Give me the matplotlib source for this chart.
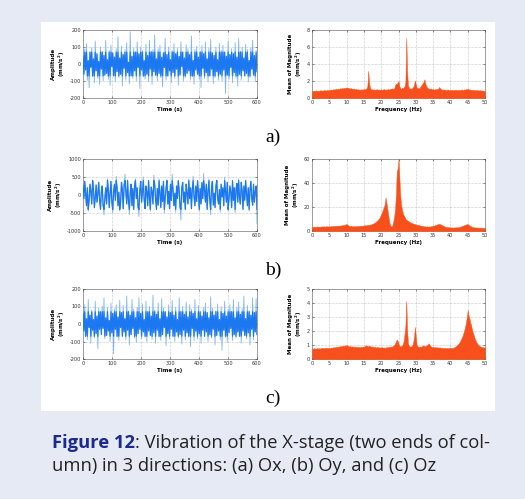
import numpy as np
import matplotlib
matplotlib.use("Agg")
import matplotlib.pyplot as plt
from matplotlib.patches import Rectangle

plt.rcParams["axes.unicode_minus"] = False

# ---------------- data ----------------
time_a = [
    45, -60, 88, -35, 120, -95, 20, -140, 70, -20, 95, -75, 30, -110, 135, -40, 60, -85, 15, -120,
    100, -30, 75, -100, 50, -65, 140, -55, 25, -90, 80, -125, 110, -15, 65, -70, 40, -105, 90, -45,
    160, -80, 35, -60, 105, -130, 55, -25, 85, -95, 125, -50, 10, -115, 190, -70, 45, -85, 95, -40,
    70, -100, 130, -20, 60, -145, 100, -35, 80, -75, 20, -90, 115, -60, 50, -105, 140, -30, 75, -120,
    85, -45, 170, -65, 30, -100, 90, -55, 110, -80, 40, -135, 65, -20, 150, -95, 55, -70, 100, -40,
    25, -110, 80, -50, 120, -85, 60, -30, 95, -125, 45, -65, 130, -15, 70, -100, 35, -80, 115, -55,
    90, -40, 55, -95, 165, -75, 20, -120, 85, -35, 105, -60, 40, -90, 75, -140, 110, -25, 60, -85,
    130, -50, 30, -105, 95, -70, 145, -30, 65, -115, 50, -80, 100, -45, 25, -95, 120, -60, 80, -100,
    110, -35, 70, -175, 45, -65, 135, -90, 55, -20, 90, -110, 60, -50, 125, -85, 40, -130, 150, -60,
    75, -95, 100, -40, 35, -70, 115, -55, 85, -105, 20, -80, 95, -30, 140, -65, 50, -100, 80, -45,
]
time_b = [
    250, -100, 380, 50, -300, 200, -450, -150, 300, 100, -250, 420, 150, -350, -80, 280, -200, 50, 350, -150,
    -400, 100, 250, -300, -550, -100, 200, -250, 450, 150, -350, 50, 380, -200, -500, 100, 300, -150, 520, 200,
    -300, 80, -450, -200, 350, 150, -380, 280, 580, 100, -250, 420, -150, -550, 50, 300, -300, 180, -400, 250,
    450, -100, 200, -350, -600, 150, 380, -200, 100, 500, -150, -380, 250, 80, -300, 400, -50, -450, 220, 100,
    -250, 550, 300, -100, -400, 180, -280, 450, 50, -350, 250, -180, 380, -500, -100, 200, 420, -250, 100, -380,
    300, -150, 580, 150, -300, 50, -480, 250, -100, 400, 120, -350, -700, 200, 350, -200, 80, -420, 300, 50,
    -250, 450, -100, 200, -380, 150, 520, -50, -300, 250, -180, 400, 80, -450, 180, -250, 350, -100, 600, 150,
    -200, 300, -400, 100, 450, -150, -550, 200, 380, -280, 50, -350, 250, 420, -100, -250, 150, -480, 300, -50,
    200, -300, 500, 100, -200, 350, -450, -100, 250, 80, -350, 400, -150, 200, -500, 150, 320, -200, 450, -80,
    -250, 350, 100, -400, 250, -150, 420, 50, -300, 200, -450, 150, 380, -100, -280, 300, -200, 100, 250, -800,
]
time_c = [
    60, -40, 110, -70, 30, -90, 140, -20, 50, -110, 80, -35, 25, -80, 130, -55, 45, -140, 90, -30,
    70, -60, 100, -25, 150, -85, 35, -65, 95, -40, 20, -100, 120, -50, 60, -170, 85, -30, 110, -75,
    40, -95, 135, -20, 65, -70, 105, -45, 30, -90, 160, -35, 75, -120, 50, -60, 140, -25, 85, -80,
    35, -105, 95, -55, 150, -30, 60, -85, 115, -45, 25, -75, 130, -100, 70, -40, 100, -65, 45, -90,
    165, -50, 80, -110, 55, -35, 120, -75, 30, -95, 145, -60, 90, -20, 70, -125, 40, -55, 110, -85,
    65, -30, 135, -70, 50, -100, 95, -45, 25, -80, 150, -60, 75, -115, 100, -35, 55, -90, 125, -50,
    40, -75, 110, -130, 85, -25, 60, -95, 140, -40, 30, -85, 105, -55, 70, -110, 45, -35, 95, -70,
    120, -45, 65, -100, 35, -60, 155, -80, 90, -30, 50, -120, 75, -65, 115, -40, 25, -90, 100, -150,
    60, -35, 130, -75, 45, -105, 85, -50, 110, -25, 70, -95, 140, -60, 35, -80, 95, -45, 125, -70,
    55, -110, 90, -40, 160, -65, 30, -85, 105, -50, 75, -120, 50, -30, 150, -90, 65, -45, 145, -60,
]
time_s = np.linspace(0, 600, len(time_a))

spec_a = [
    0.85, 0.82, 0.88, 0.80, 0.86, 0.90, 0.84, 0.87, 0.83, 0.89, 0.92, 0.86, 0.90, 0.88, 0.93, 0.91, 0.87, 0.94, 0.90, 0.95,
    0.92, 0.97, 1.00, 0.95, 1.02, 0.98, 1.05, 1.01, 1.08, 1.04, 1.10, 1.06, 1.12, 1.15, 1.09, 1.18, 1.13, 1.20, 1.16, 1.22,
    1.25, 1.18, 1.21, 1.15, 1.12, 1.17, 1.10, 1.08, 1.13, 1.05, 1.02, 1.07, 1.00, 1.04, 0.98, 1.01, 0.97, 1.03, 0.99, 1.02,
    1.05, 1.00, 1.08, 1.15, 1.40, 3.20, 1.80, 1.20, 1.05, 1.00, 1.03, 0.98, 1.02, 0.96, 1.00, 1.04, 0.97, 1.01, 0.95, 0.99,
    1.02, 0.96, 1.00, 1.05, 0.98, 1.03, 0.97, 1.01, 1.06, 1.00, 1.04, 1.10, 1.08, 1.15, 1.05, 1.12, 1.50, 1.70, 1.60, 1.85,
    2.00, 1.40, 1.15, 1.10, 1.20, 1.12, 1.25, 1.40, 1.90, 7.10, 3.00, 1.50, 1.20, 1.10, 1.15, 1.08, 1.20, 1.30, 1.60, 2.05,
    1.60, 1.25, 1.15, 1.20, 1.10, 1.30, 1.45, 1.60, 1.75, 1.90, 2.20, 1.70, 1.40, 1.25, 1.15, 1.10, 1.05, 1.12, 1.08, 1.02,
    1.05, 0.98, 1.02, 1.06, 1.00, 1.08, 1.12, 1.30, 1.15, 1.05, 1.00, 0.97, 1.02, 0.95, 0.99, 0.93, 0.97, 1.00, 0.94, 0.96,
    0.92, 0.98, 0.95, 0.90, 0.96, 0.93, 0.99, 0.94, 0.91, 0.97, 0.95, 0.92, 0.98, 1.00, 0.96, 0.94, 1.02, 0.98, 1.05, 1.00,
    1.10, 1.03, 0.98, 1.00, 0.95, 0.97, 0.93, 0.96, 0.92, 0.94, 0.90, 0.95, 0.91, 0.88, 0.93, 0.89, 0.86, 0.90, 0.85, 0.83,
    0.80,
]
spec_b = [
    3.5, 3.2, 3.8, 3.4, 3.6, 3.3, 3.9, 3.5, 3.7, 3.4, 3.8, 3.6, 4.0, 3.7, 3.9, 3.6, 4.1, 3.8, 4.0, 3.7,
    4.0, 3.8, 4.2, 3.9, 4.3, 4.0, 4.4, 4.1, 4.5, 4.2, 4.6, 4.3, 4.7, 4.4, 4.8, 4.6, 5.0, 4.8, 5.3, 5.6,
    5.8, 5.2, 4.6, 4.2, 4.0, 4.3, 3.9, 4.1, 3.8, 4.0, 3.9, 4.2, 4.0, 4.3, 4.1, 4.4, 4.2, 4.5, 4.3, 4.6,
    4.5, 4.8, 4.6, 5.0, 4.8, 5.2, 5.0, 5.5, 5.3, 5.8, 6.0, 6.4, 6.8, 7.2, 7.8, 8.5, 9.2, 10.0, 11.0, 12.5,
    14.0, 16.0, 18.0, 20.0, 22.0, 28.0, 24.0, 19.0, 14.0, 9.0, 5.5, 4.0, 3.5, 5.0, 8.0, 12.0, 18.0, 30.0, 50.0, 52.0,
    60.0, 45.0, 30.0, 22.0, 18.0, 15.0, 13.0, 12.0, 10.0, 9.5, 9.0, 8.5, 8.0, 7.5, 7.0, 6.8, 6.5, 6.2, 6.0, 5.7,
    5.5, 5.3, 5.1, 5.0, 4.8, 4.6, 4.5, 4.3, 4.2, 4.0, 3.9, 3.8, 3.7, 3.9, 3.6, 3.8, 3.7, 3.9, 4.0, 4.2,
    4.3, 4.5, 4.8, 5.0, 5.3, 5.6, 5.8, 6.0, 5.7, 5.4, 5.0, 4.6, 4.2, 3.9, 3.6, 3.4, 3.3, 3.1, 3.2, 3.0,
    3.1, 2.9, 3.0, 2.8, 3.0, 2.9, 3.1, 3.0, 3.2, 3.1, 3.3, 3.5, 3.8, 4.0, 4.3, 4.6, 4.9, 5.2, 5.5, 5.7,
    5.6, 5.2, 4.7, 4.2, 3.8, 3.5, 3.3, 3.1, 3.0, 2.9, 3.0, 2.8, 2.9, 2.7, 2.8, 2.6, 2.8, 2.7, 2.6, 2.5,
    2.6,
]
spec_c = [
    0.75, 0.72, 0.78, 0.74, 0.76, 0.73, 0.79, 0.75, 0.77, 0.74, 0.78, 0.76, 0.80, 0.77, 0.79, 0.76, 0.81, 0.78, 0.80, 0.77,
    0.80, 0.78, 0.82, 0.79, 0.84, 0.81, 0.86, 0.83, 0.88, 0.85, 0.90, 0.87, 0.92, 0.89, 0.94, 0.91, 0.96, 0.93, 0.98, 0.95,
    1.00, 0.96, 0.93, 0.90, 0.92, 0.88, 0.91, 0.87, 0.90, 0.86, 0.89, 0.85, 0.88, 0.84, 0.87, 0.83, 0.86, 0.88, 0.85, 0.90,
    0.87, 0.92, 0.95, 0.98, 0.93, 0.90, 0.96, 0.92, 0.88, 0.91, 0.86, 0.89, 0.84, 0.87, 0.82, 0.86, 0.83, 0.85, 0.81, 0.84,
    0.82, 0.85, 0.80, 0.83, 0.79, 0.84, 0.81, 0.86, 0.82, 0.88, 0.85, 0.90, 0.87, 0.92, 0.95, 1.00, 1.10, 1.25, 1.40, 1.30,
    1.10, 0.95, 0.90, 0.92, 0.95, 1.05, 1.30, 1.80, 2.40, 4.15, 2.00, 1.10, 0.95, 0.90, 0.88, 0.92, 0.98, 1.20, 1.60, 2.30,
    1.60, 1.00, 0.90, 0.88, 0.86, 0.90, 0.87, 0.92, 0.95, 0.98, 0.93, 0.90, 0.95, 1.00, 1.05, 1.12, 1.00, 0.92, 0.88, 0.85,
    0.87, 0.83, 0.85, 0.82, 0.86, 0.80, 0.84, 0.81, 0.83, 0.79, 0.82, 0.78, 0.81, 0.77, 0.80, 0.76, 0.79, 0.77, 0.80, 0.78,
    0.80, 0.77, 0.81, 0.79, 0.83, 0.86, 0.90, 0.95, 1.00, 1.08, 1.15, 1.25, 1.38, 1.50, 1.65, 1.85, 2.05, 2.30, 2.60, 3.00,
    3.50, 3.10, 2.90, 2.60, 2.40, 2.10, 1.90, 1.70, 1.50, 1.35, 1.20, 1.10, 1.02, 0.96, 0.92, 0.88, 0.86, 0.83, 0.85, 0.82,
    0.80,
]
freq_hz = np.linspace(0, 50, len(spec_a))

time_ticks = [0, 100, 200, 300, 400, 500, 600]
freq_ticks = [0, 5, 10, 15, 20, 25, 30, 35, 40, 45, 50]
yticks_time = [[-200, -100, 0, 100, 200], [-1000, -500, 0, 500, 1000], [-200, -100, 0, 100, 200]]
yticks_spec = [[0, 2, 4, 6, 8], [0, 20, 40, 60], [0, 1, 2, 3, 4, 5]]
row_labels = ["a)", "b)", "c)"]

# ---------------- figure ----------------
W, H = 525, 499
fig = plt.figure(figsize=(W / 100, H / 100), dpi=100)
fig.patch.set_facecolor("#E6EAF5")

bg = fig.add_axes([0, 0, 1, 1], zorder=-10)
bg.set_xlim(0, W)
bg.set_ylim(H, 0)
bg.axis("off")
bg.add_patch(Rectangle((41, 22), 495 - 41, 411 - 22, facecolor="white", edgecolor="none"))

def px_axes(x0, y0, x1, y1):
    return fig.add_axes([x0 / W, 1 - y1 / H, (x1 - x0) / W, (y1 - y0) / H], zorder=1)

blue_light = "#7DB6F7"
blue_dark = "#1C78F0"
orange = "#F8501C"
tick_fs = 3.6
lab_fs = 4.0

def style(ax):
    ax.tick_params(direction="in", length=1.5, width=0.4, labelsize=tick_fs, pad=1.5,
                   colors="#333333", top=True, right=True)
    for s in ax.spines.values():
        s.set_linewidth(0.5)
        s.set_color("#777777")
    ax.grid(True, linestyle=(0, (1, 1.5)), linewidth=0.4, color="#999999")
    ax.set_axisbelow(False)

rows_px = [(30, 98), (159, 231), (289, 359)]
times = [time_a, time_b, time_c]
specs = [spec_a, spec_b, spec_c]
core_frac = [0.35, 0.4, 0.35]

for i in range(3):
    y0, y1 = rows_px[i]
    lim = yticks_time[i][-1]
    vals = np.asarray(times[i], dtype=float)
    # time domain
    ax = px_axes(83, y0, 257, y1)
    ax.plot(time_s, vals, color=blue_light, linewidth=0.6, zorder=3)
    c = core_frac[i] * lim
    ax.plot(time_s, np.clip(vals, -c, c), color=blue_dark, linewidth=0.9, zorder=4)
    ax.set_xlim(0, 600)
    ax.set_ylim(-lim, lim)
    ax.set_xticks(time_ticks)
    ax.set_yticks(yticks_time[i])
    style(ax)
    ax.set_xlabel("Time (s)", fontsize=lab_fs, fontweight="bold", labelpad=1.5)
    ax.set_ylabel("Amplitude\n(mm/s$^\\mathbf{2}$)", fontsize=lab_fs, fontweight="bold",
                  labelpad=2, linespacing=1.1)

    # frequency domain
    ax2 = px_axes(312, y0, 485, y1)
    ax2.fill_between(freq_hz, 0, specs[i], color=orange, linewidth=0.3, edgecolor=orange, zorder=3)
    ax2.set_xlim(0, 50)
    ax2.set_ylim(0, yticks_spec[i][-1])
    ax2.set_xticks(freq_ticks)
    ax2.set_yticks(yticks_spec[i])
    style(ax2)
    ax2.set_xlabel("Frequency (Hz)", fontsize=lab_fs, fontweight="bold", labelpad=1.5)
    ax2.set_ylabel("Mean of Magnitude\n(mm/s$^\\mathbf{2}$)", fontsize=lab_fs, fontweight="bold",
                   labelpad=2, linespacing=1.1)

    # row label
    fig.text(273 / W, 1 - (y1 + 39) / H, row_labels[i], fontsize=14,
             family="Liberation Serif", ha="center", va="center")

# caption
cap_fs = 13.2
t1 = fig.text(52 / W, 1 - 443 / H, "Figure 12", fontsize=cap_fs, fontweight="bold",
              color="#1B2A8F", family="Open Sans", va="center", ha="left")
fig.canvas.draw()
r = fig.canvas.get_renderer()
bb = t1.get_window_extent(renderer=r)
fig.text(bb.x1 / W, 1 - 443 / H, ": Vibration of the X-stage (two ends of col-",
         fontsize=cap_fs, color="#222222", family="Open Sans", va="center", ha="left")
fig.text(52 / W, 1 - 466 / H, "umn) in 3 directions: (a) Ox, (b) Oy, and (c) Oz",
         fontsize=cap_fs, color="#222222", family="Open Sans", va="center", ha="left")

fig.savefig("out.png", dpi=100, facecolor=fig.get_facecolor())
